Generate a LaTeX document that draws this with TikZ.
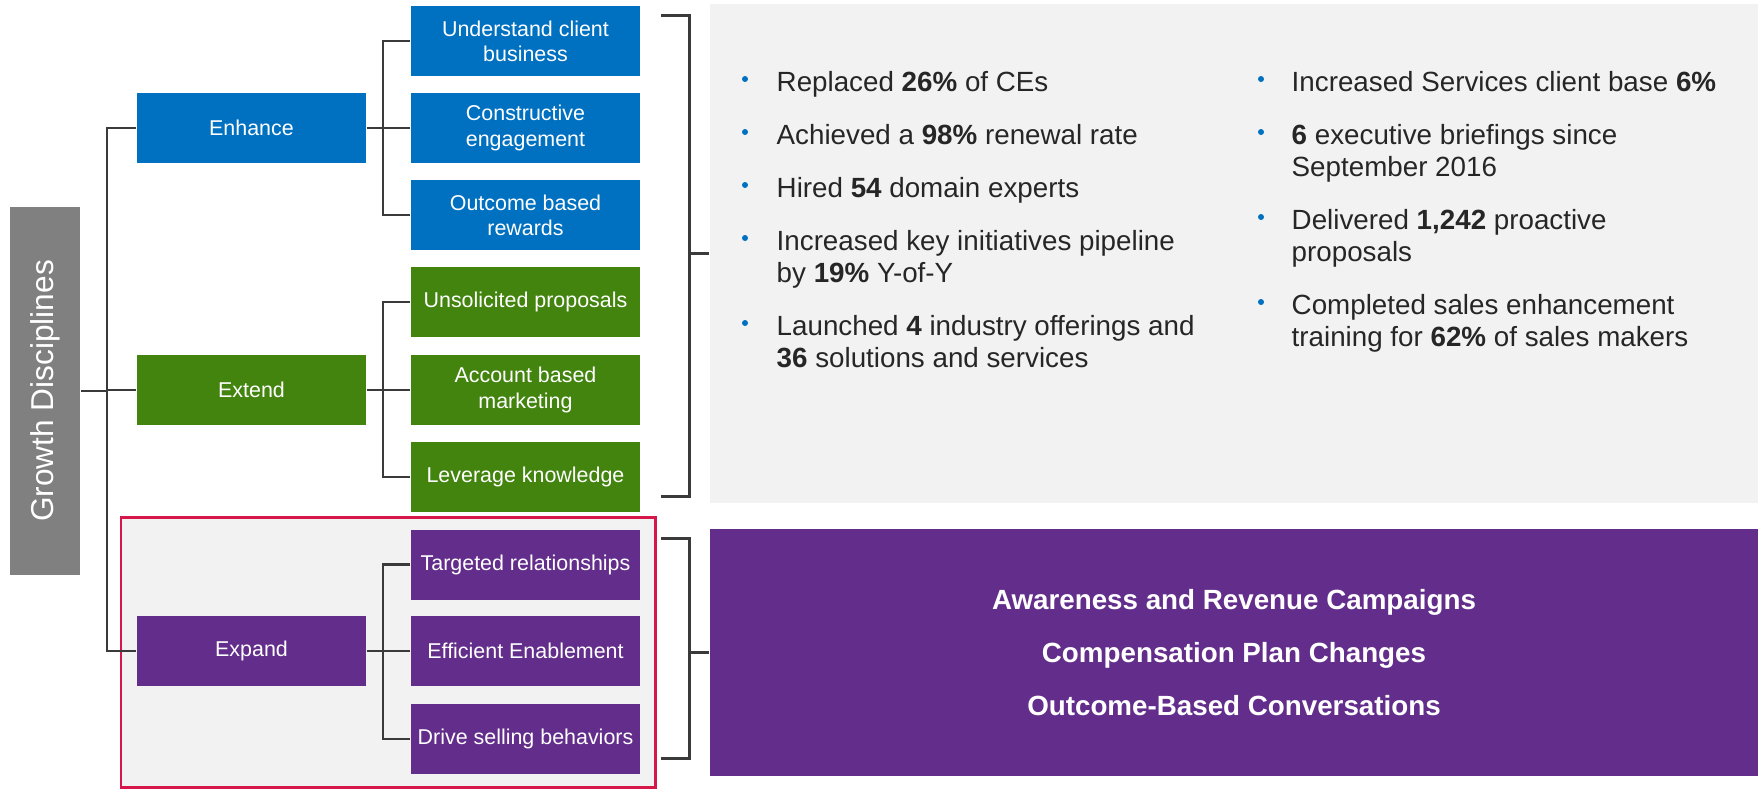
\documentclass[tikz,border=0pt]{standalone}
\usepackage{fontspec}
\setmainfont{Liberation Sans}
\usepackage{graphicx}
\definecolor{enhblue}{HTML}{0070C0}
\definecolor{extgreen}{HTML}{43840F}
\definecolor{exppurple}{HTML}{632D8B}
\definecolor{panelgray}{HTML}{F2F2F2}
\definecolor{titlegray}{HTML}{808080}
\definecolor{hlred}{HTML}{D6174A}
\definecolor{linegray}{HTML}{3A3A3A}
\definecolor{txtgray}{HTML}{262626}

\begin{document}
\begin{tikzpicture}[
  x=1cm, y=-1cm,
  box/.style={minimum width=2.29cm, minimum height=0.70cm, inner sep=0pt, align=center, text=white, font=\fontsize{6.1}{7.2}\selectfont},
  enh/.style={box, fill=enhblue},
  ext/.style={box, fill=extgreen},
  exp/.style={box, fill=exppurple},
  conn/.style={draw=linegray, line width=0.7pt},
  brk/.style={draw=linegray, line width=0.85pt},
  hl/.style={draw=hlred, line width=0.85pt, fill=panelgray},
  item/.style={anchor=base west, align=left, inner sep=0pt, text=txtgray, font=\fontsize{7.9}{9.1}\selectfont},
  bul/.style={circle, fill=enhblue, inner sep=0pt, minimum size=0.06cm}
]
  \useasboundingbox (0,0) rectangle (17.58,7.90);

  % Riquadro evidenziato attorno a Expand
  \draw[hl] (1.21,5.17) rectangle (6.55,7.875);

  % Titolo verticale
  \node[fill=titlegray, minimum width=0.70cm, minimum height=3.68cm, inner sep=0pt, text=white, font=\fontsize{9}{10}\selectfont] (gd) at (0.45,3.91) {\rotatebox{90}{Growth Disciplines}};

  % Primo livello
  \node[enh] (enh) at (2.515,1.28) {Enhance};
  \node[ext] (ext) at (2.515,3.90) {Extend};
  \node[exp] (exp) at (2.515,6.51) {Expand};

  % Secondo livello
  \node[enh] (u1) at (5.255,0.41) {Understand client\\business};
  \node[enh] (u2) at (5.255,1.28) {Constructive\\engagement};
  \node[enh] (u3) at (5.255,2.15) {Outcome based\\rewards};
  \node[ext] (x1) at (5.255,3.02) {Unsolicited proposals};
  \node[ext] (x2) at (5.255,3.90) {Account based\\marketing};
  \node[ext] (x3) at (5.255,4.77) {Leverage knowledge};
  \node[exp] (p1) at (5.255,5.645) {Targeted relationships};
  \node[exp] (p2) at (5.255,6.51) {Efficient Enablement};
  \node[exp] (p3) at (5.255,7.39) {Drive selling behaviors};

  % Linee dell'albero
  \coordinate (t0) at (1.07,0);
  \coordinate (t1) at (3.83,0);
  \draw[conn] (gd.east) -- (gd.east -| t0);
  \draw[conn] (enh.west) -- (enh.west -| t0) -- (exp.west -| t0) -- (exp.west);
  \draw[conn] (ext.west) -- (ext.west -| t0);
  \draw[conn] (enh.east) -- (enh.east -| t1);
  \draw[conn] (u1.west) -- (u1.west -| t1) -- (u3.west -| t1) -- (u3.west);
  \draw[conn] (u2.west) -- (u2.west -| t1);
  \draw[conn] (ext.east) -- (ext.east -| t1);
  \draw[conn] (x1.west) -- (x1.west -| t1) -- (x3.west -| t1) -- (x3.west);
  \draw[conn] (x2.west) -- (x2.west -| t1);
  \draw[conn] (exp.east) -- (exp.east -| t1);
  \draw[conn] (p1.west) -- (p1.west -| t1) -- (p3.west -| t1) -- (p3.west);
  \draw[conn] (p2.west) -- (p2.west -| t1);

  % Pannelli a destra
  \node[fill=panelgray, minimum width=10.48cm, minimum height=4.985cm, inner sep=0pt] (res) at (12.34,2.535) {};
  \node[fill=exppurple, minimum width=10.48cm, minimum height=2.47cm, inner sep=0pt, align=center, text=white, font=\bfseries\fontsize{7.9}{15}\selectfont] (camp) at (12.34,6.525) {Awareness and Revenue Campaigns\\Compensation Plan Changes\\Outcome-Based Conversations};

  % Parentesi
  \coordinate (b1t) at (6.61,0.15);
  \coordinate (b1b) at (6.61,4.96);
  \coordinate (b2t) at (6.61,5.38);
  \coordinate (b2b) at (6.61,7.58);
  \draw[brk] (b1t) -| ([xshift=-0.2cm]res.west) |- (b1b);
  \draw[brk] ([xshift=-0.2cm]res.west) -- (res.west);
  \draw[brk] (b2t) -| ([xshift=-0.2cm]camp.west) |- (b2b);
  \draw[brk] ([xshift=-0.2cm]camp.west) -- (camp.west);

  % Elenchi puntati (base = ultima riga)
  \foreach \y [count=\i] in {0.79,1.32,1.85,2.38,3.23}
    \node[bul] (bl\i) at (7.45,\y) {};
  \foreach \y [count=\i] in {0.79,1.32,2.17,3.02}
    \node[bul] (br\i) at (12.61,\y) {};
  \node[item] (l1) at (7.76,0.91) {Replaced \textbf{26\%} of CEs};
  \node[item] (l2) at (7.76,1.44) {Achieved a \textbf{98\%} renewal rate};
  \node[item] (l3) at (7.76,1.97) {Hired \textbf{54} domain experts};
  \node[item] (l4) at (7.76,2.821) {Increased key initiatives pipeline\\by \textbf{19\%} Y-of-Y};
  \node[item] (l5) at (7.76,3.671) {Launched \textbf{4} industry offerings and\\\textbf{36} solutions and services};
  \node[item] (r1) at (12.91,0.91) {Increased Services client base \textbf{6\%}};
  \node[item] (r2) at (12.91,1.761) {\textbf{6} executive briefings since\\September 2016};
  \node[item] (r3) at (12.91,2.611) {Delivered \textbf{1,242} proactive\\proposals};
  \node[item] (r4) at (12.91,3.461) {Completed sales enhancement\\training for \textbf{62\%} of sales makers};
\end{tikzpicture}
\end{document}
